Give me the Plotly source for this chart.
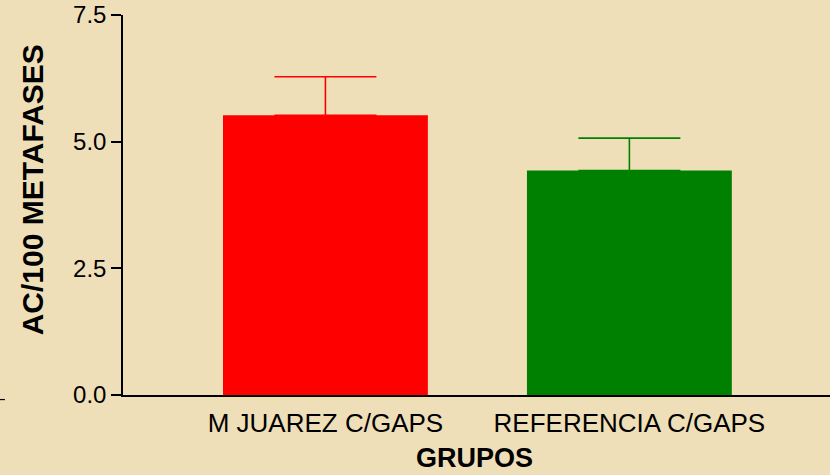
import plotly.graph_objects as go

categories = ["M JUAREZ C/GAPS", "REFERENCIA C/GAPS"]
means = [5.52, 4.43]
errors_up = [0.76, 0.64]
colors = ["#FF0000", "#008000"]
y_ticks = [0.0, 2.5, 5.0, 7.5]
y_tick_labels = ["0.0", "2.5", "5.0", "7.5"]

BG = "#EEDFB8"
FONT = "Liberation Sans, Arial, sans-serif"

fig = go.Figure()
for cat, m, e, c in zip(categories, means, errors_up, colors):
    fig.add_trace(go.Bar(
        x=[cat], y=[m],
        marker=dict(color=c, line=dict(width=0)),
        width=0.674,
        error_y=dict(type="data", array=[e], arrayminus=[0], symmetric=False,
                     color=c, thickness=1.6, width=51),
        showlegend=False,
    ))

fig.update_layout(
    width=830, height=475,
    margin=dict(l=123, r=0, t=15, b=80),
    paper_bgcolor=BG, plot_bgcolor=BG,
    font=dict(family=FONT, color="black"),
    bargap=0.326,
    xaxis=dict(
        range=[-0.666, 1.66], automargin=False,
        showline=True, linecolor="black", linewidth=1.5,
        ticks="", tickfont=dict(size=26, family=FONT, color="black"),
        ticklabelstandoff=4,
        showgrid=False, zeroline=False,
    ),
    yaxis=dict(
        range=[0, 7.5], automargin=False,
        tickvals=y_ticks, ticktext=y_tick_labels,
        showline=True, linecolor="black", linewidth=1.5,
        ticks="outside", ticklen=10, tickwidth=1.5, tickcolor="black",
        tickfont=dict(size=24, family=FONT, color="black"),
        showgrid=False, zeroline=False,
    ),
    annotations=[
        dict(text="<b>GRUPOS</b>", xref="paper", yref="paper",
             x=0.497, y=-0.165, xanchor="center", yanchor="middle",
             showarrow=False, font=dict(size=27, family=FONT, color="black")),
        dict(text="<b>AC/100 METAFASES</b>", xref="paper", yref="paper",
             x=-0.128, y=0.54, xanchor="center", yanchor="middle", textangle=-90,
             showarrow=False, font=dict(size=30, family=FONT, color="black")),
    ],
    shapes=[
        dict(type="line", xref="paper", yref="paper",
             x0=-0.174, x1=-0.167, y0=-0.012, y1=-0.012,
             line=dict(color="black", width=1.2)),
    ],
)

fig.write_html(
    "out.html",
    config={"displayModeBar": False},
    post_script="document.body.style.margin='0';document.body.style.background='" + BG + "';",
)
